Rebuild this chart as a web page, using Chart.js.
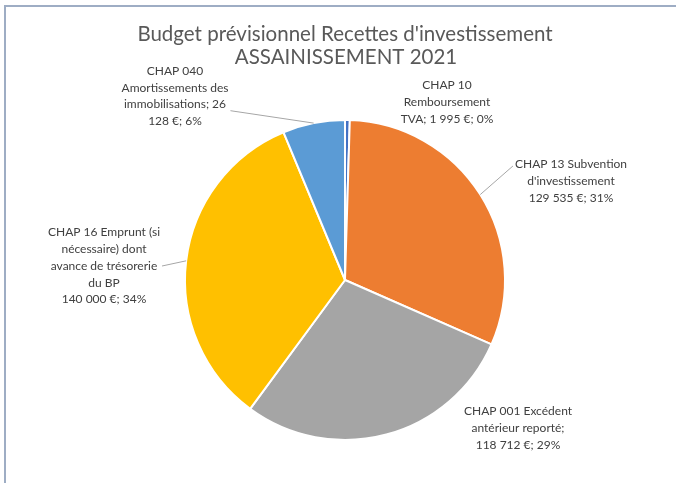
<!DOCTYPE html>
<html lang="fr">
<head>
<meta charset="utf-8">
<script src="https://cdn.jsdelivr.net/npm/chart.js@4.4.1/dist/chart.umd.min.js"></script>
<style>
  html, body { margin: 0; padding: 0; background: #fff; overflow: hidden; }
  #zone { position: absolute; left: 0; top: 0; width: 676px; height: 483px; }
</style>
</head>
<body>
<div id="zone"><canvas id="camembert"></canvas></div>
<script>
// Données du budget
const titre = ["Budget prévisionnel Recettes d'investissement", "ASSAINISSEMENT 2021"];
const chapitres = [
    "CHAP 10 Remboursement TVA",
    "CHAP 13 Subvention d'investissement",
    "CHAP 001 Excédent antérieur reporté",
    "CHAP 16 Emprunt (si nécessaire) dont avance de trésorerie du BP",
    "CHAP 040 Amortissements des immobilisations"
];
const montants = [1995, 129535, 118712, 140000, 26128];
const separateurs = ["; ", "\n", "; ", "\n", "; "];
const couleurs = ["#4472C4", "#ED7D31", "#A5A5A5", "#FFC000", "#5B9BD5"];

// Placement des étiquettes : décalage par rapport au centre, largeur de retour à la ligne,
// point d'accroche du trait de rappel (fraction de la boîte) ou null
const placements = [
    { dx: 102, dy: -178, largeur: 100, trait: null },
    { dx: 226, dy: -99, largeur: 125, trait: [0, 0.2] },
    { dx: 173, dy: 148, largeur: 112, trait: null },
    { dx: -241, dy: -14, largeur: 120, trait: [1, 0.5] },
    { dx: -170, dy: -184, largeur: 107, trait: [1, 0.72] }
];

const POLICE = "Lato, 'Open Sans', sans-serif";
const total = montants.reduce((a, b) => a + b, 0);

function euros(v) {
    return String(v).replace(/\B(?=(\d{3})+(?!\d))/g, " ") + " €";
}

function texteEtiquette(i) {
    const pct = Math.round(montants[i] / total * 100);
    return chapitres[i] + separateurs[i] + euros(montants[i]) + "; " + pct + "%";
}

// retour à la ligne simple, mot par mot
function couper(ctx, texte, largeur) {
    const lignes = [];
    texte.split("\n").forEach(bloc => {
        let courante = "";
        bloc.split(" ").forEach(mot => {
            const essai = courante ? courante + " " + mot : mot;
            if (courante && ctx.measureText(essai).width > largeur) {
                lignes.push(courante);
                courante = mot;
            } else {
                courante = essai;
            }
        });
        if (courante) lignes.push(courante);
    });
    return lignes;
}

// cadre du graphique (seuls les bords haut et gauche sont visibles)
const cadrePlugin = {
    id: "cadre",
    beforeDraw(chart) {
        const ctx = chart.ctx;
        ctx.save();
        ctx.strokeStyle = "#9eadc4";
        ctx.lineWidth = 2;
        ctx.beginPath();
        ctx.moveTo(5, chart.height);
        ctx.lineTo(5, 6);
        ctx.lineTo(chart.width, 6);
        ctx.stroke();
        ctx.restore();
    }
};

const titrePlugin = {
    id: "titreExcel",
    afterDraw(chart) {
        const ctx = chart.ctx;
        ctx.save();
        ctx.fillStyle = "#595959";
        ctx.font = "20.5px " + POLICE;
        ctx.textAlign = "center";
        ctx.textBaseline = "middle";
        ctx.fillText(titre[0], 345, 34);
        ctx.fillText(titre[1], 346, 57);
        ctx.restore();
    }
};

const etiquettesPlugin = {
    id: "etiquettesExcel",
    afterDatasetsDraw(chart) {
        const ctx = chart.ctx;
        const arcs = chart.getDatasetMeta(0).data;
        const hautLigne = 16.7;
        ctx.save();
        ctx.font = "12px " + POLICE;
        ctx.textAlign = "center";
        ctx.textBaseline = "middle";
        arcs.forEach((arc, i) => {
            const p = placements[i];
            const lignes = couper(ctx, texteEtiquette(i), p.largeur);
            const larg = Math.max(...lignes.map(l => ctx.measureText(l).width));
            const haut = lignes.length * hautLigne;
            const cx = arc.x + p.dx;
            const cy = arc.y + p.dy;

            if (p.trait) {
                const milieu = (arc.startAngle + arc.endAngle) / 2;
                const rx = arc.x + Math.cos(milieu) * arc.outerRadius;
                const ry = arc.y + Math.sin(milieu) * arc.outerRadius;
                const ax = cx - larg / 2 - 2 + p.trait[0] * (larg + 4);
                const ay = cy - haut / 2 + p.trait[1] * haut;
                ctx.strokeStyle = "#a6a6a6";
                ctx.lineWidth = 1;
                ctx.beginPath();
                ctx.moveTo(rx, ry);
                ctx.lineTo(ax, ay);
                ctx.stroke();
            }

            ctx.fillStyle = "#404040";
            lignes.forEach((l, k) => {
                ctx.fillText(l, cx, cy - haut / 2 + hautLigne * (k + 0.5));
            });
        });
        ctx.restore();
    }
};

new Chart(document.getElementById("camembert"), {
    type: "pie",
    data: {
        labels: chapitres,
        datasets: [{
            data: montants,
            backgroundColor: couleurs,
            borderColor: "#ffffff",
            borderWidth: 2
        }]
    },
    options: {
        responsive: true,
        maintainAspectRatio: false,
        animation: false,
        layout: { padding: { top: 119, bottom: 42, left: 14, right: 0 } },
        plugins: {
            legend: { display: false },
            tooltip: { enabled: false },
            title: { display: false }
        }
    },
    plugins: [cadrePlugin, titrePlugin, etiquettesPlugin]
});
</script>
</body>
</html>
